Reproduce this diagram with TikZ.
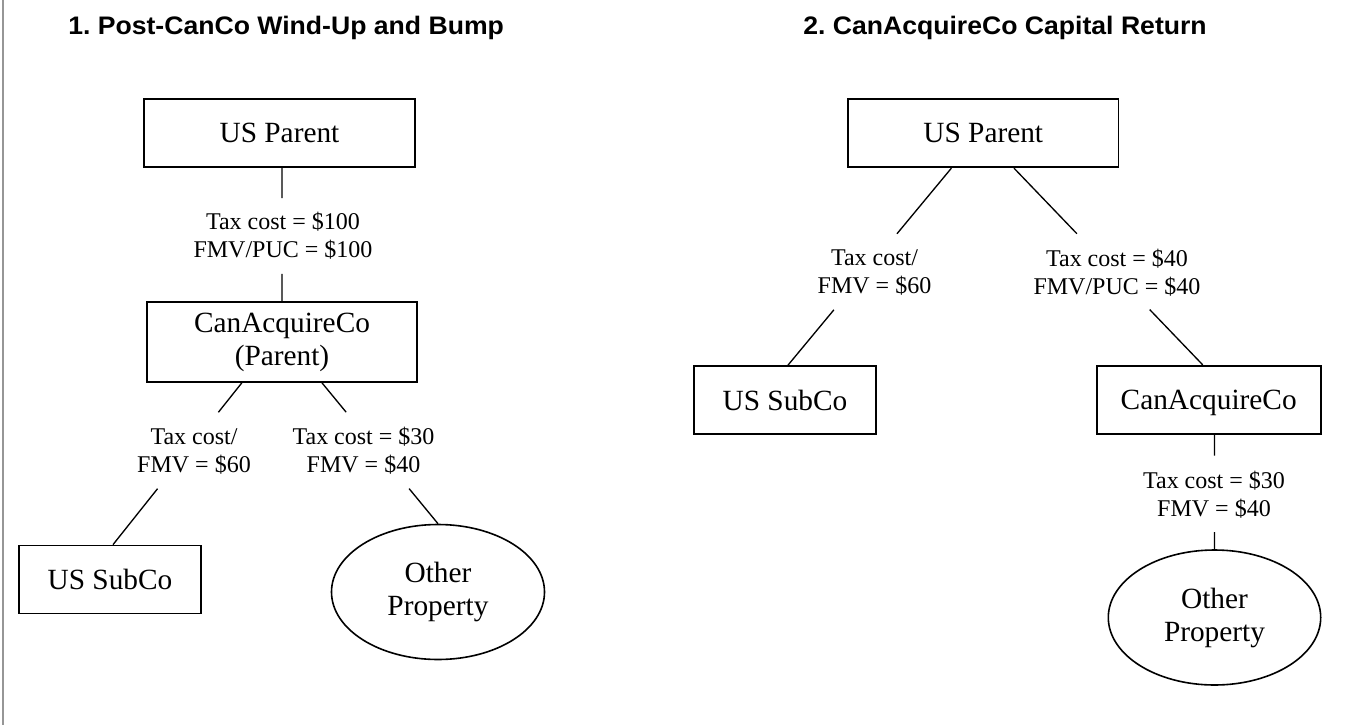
\documentclass[tikz,border=0pt]{standalone}
\usepackage{fontspec}
\setmainfont{Liberation Serif}
\newfontfamily\titlefont[FakeStretch=1.05]{Liberation Sans}
\usetikzlibrary{shapes.geometric,calc}
\definecolor{framegray}{RGB}{150,150,150}
\newcommand\gapline[4]{%
  \draw[link] (#1) -- ($(#1)!#3!(#2)$);
  \draw[link] ($(#1)!#4!(#2)$) -- (#2);}
\begin{document}
\begin{tikzpicture}[x=0.75pt,y=-0.75pt,
  box/.style={draw,line width=1.3pt,rectangle,inner sep=0pt,align=center,font=\fontsize{22}{24.75}\selectfont},
  oval/.style={draw,line width=1.2pt,ellipse,inner sep=0pt,align=center,font=\fontsize{22}{24.75}\selectfont},
  lbl/.style={inner sep=0pt,align=center,font=\fontsize{18}{21}\selectfont},
  title/.style={anchor=base west,inner sep=0pt,font=\titlefont\bfseries\fontsize{19}{21}\selectfont\frenchspacing},
  link/.style={line width=1pt}]
\useasboundingbox (0,0) rectangle (1346,725);
\draw[framegray, line width=1.8pt] (3,0) -- (3,725);

% titles
\node[title] (t1) at (68,34.5) {1. Post-CanCo Wind-Up and Bump};
\node[title] (t2) at (803,34.5) {2. CanAcquireCo Capital Return};

% left diagram
\node[box,minimum width=203.25pt,minimum height=51pt] (lusp) at (279.5,133) {US Parent};
\node[box,minimum width=202.5pt,minimum height=60pt] (lca) at (282,342) {CanAcquireCo\\(Parent)};
\node[box,minimum width=136.5pt,minimum height=51pt] (lsub) at (110,579.5) {US SubCo};
\node[oval,minimum width=159.75pt,minimum height=101.25pt] (lop) at (438,592) {Other\\Property};
\node[lbl] (l1) at (283,236) {Tax cost = \$100\\FMV/PUC = \$100};
\node[lbl] (l2) at (194,451) {Tax cost/\\FMV = \$60};
\node[lbl] (l3) at (363.5,451) {Tax cost = \$30\\FMV = \$40};

\coordinate (luspB) at (lusp.south -| lca.north);
\coordinate (lcaL) at ([xshift=-30.15pt]lca.south);
\coordinate (lcaR) at ([xshift=30pt]lca.south);
\coordinate (lsubT) at ([xshift=2.25pt]lsub.north);
\gapline{luspB}{lca.north}{0.227}{0.795}
\gapline{lcaL}{lsubT}{0.182}{0.654}
\gapline{lcaR}{lop.north}{0.208}{0.751}

% right diagram
\node[box,minimum width=202.9pt,minimum height=51pt] (rusp) at (983.25,133.3) {US Parent};
\node[box,minimum width=136.5pt,minimum height=51pt] (rsub) at (785,400) {US SubCo};
\node[box,minimum width=168pt,minimum height=51pt,text depth=0pt] (rca) at (1208.7,399.7) {CanAcquireCo};
\node[oval,minimum width=159.3pt,minimum height=101.25pt] (rop) at (1214.5,617.5) {Other\\Property};
\node[lbl] (r1) at (874.5,272.5) {Tax cost/\\FMV = \$60};
\node[lbl] (r2) at (1117,272.5) {Tax cost = \$40\\FMV/PUC = \$40};
\node[lbl] (r3) at (1214,495) {Tax cost = \$30\\FMV = \$40};

\coordinate (ruspL) at ([xshift=-23.9pt]rusp.south);
\coordinate (ruspR) at ([xshift=23.06pt]rusp.south);
\coordinate (rsubT) at ([xshift=2.25pt]rsub.north);
\coordinate (rcaT) at ([xshift=-4.5pt]rca.north);
\coordinate (rcaB) at (rca.south -| rop.north);
\gapline{ruspL}{rsubT}{0.333}{0.719}
\gapline{ruspR}{rcaT}{0.333}{0.719}
\gapline{rcaB}{rop.north}{0.183}{0.851}
\end{tikzpicture}
\end{document}
